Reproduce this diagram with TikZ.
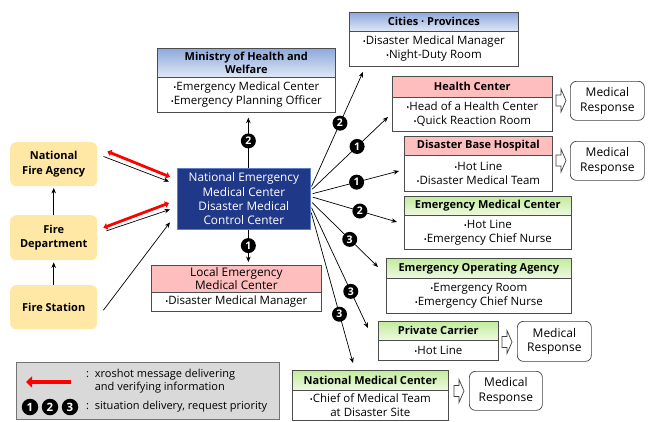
\documentclass[tikz,border=0pt]{standalone}
\usepackage{fontspec}
\setmainfont{Open Sans}
\usetikzlibrary{arrows.meta}

\definecolor{nemcblue}{RGB}{32,56,136}
\definecolor{nemcedge}{RGB}{96,126,196}
\definecolor{hdrblueA}{RGB}{142,169,219}
\definecolor{hdrblueB}{RGB}{224,232,247}
\definecolor{hdrpink}{RGB}{255,190,190}
\definecolor{hdrgreenA}{RGB}{194,236,156}
\definecolor{hdrgreenB}{RGB}{238,249,226}
\definecolor{fireyellow}{RGB}{255,231,165}
\definecolor{legendgray}{RGB}{217,217,217}

\newcommand\bul{{\fontsize{8}{8}\selectfont•}}

\tikzset{
	box/.style={draw=black!70, line width=0.7pt, anchor=north west, inner sep=0pt, align=center},
	hdr/.style={box, font=\fontsize{11}{13.5}\selectfont\bfseries},
	body/.style={box, fill=white, font=\fontsize{11.5}{14.3}\selectfont},
	bluehdr/.style={hdr, top color=hdrblueA, bottom color=hdrblueB},
	pinkhdr/.style={hdr, fill=hdrpink},
	greenhdr/.style={hdr, top color=hdrgreenA, bottom color=hdrgreenB},
	firebox/.style={anchor=north west, rounded corners=6pt, fill=fireyellow, inner sep=0pt, align=center, font=\fontsize{11}{14.5}\selectfont\bfseries},
	medresp/.style={anchor=north west, draw=black!75, line width=0.7pt, rounded corners=6pt, inner sep=0pt, align=center, font=\fontsize{12}{14.5}\selectfont},
	hollowarrow/.pic={\draw[draw=black!75, line width=0.7pt, fill=white] (-5,-5.5) -- (0,-5.5) -- (0,-11.5) -- (5,0) -- (0,11.5) -- (0,5.5) -- (-5,5.5) -- cycle;},
	prio/.style={circle, fill=black, text=white, inner sep=0pt, minimum size=15pt, font=\fontsize{10.5}{10.5}\selectfont\bfseries},
	link/.style={line width=0.7pt, -{Stealth[length=5.5pt,width=4.5pt]}},
	xro/.style={red, line width=2.8pt, {Triangle[length=4pt,width=6.5pt]}-{Triangle[length=4pt,width=6.5pt]}},
}

\begin{document}
\begin{tikzpicture}[x=1pt,y=1pt,yscale=-1,xscale=1]
	\useasboundingbox (0,0) rectangle (648,421);
	
	%Shape: Rectangle [fire side]
	\node[firebox, minimum width=87pt, minimum height=44pt] (nfa) at (10,142) {National\\Fire Agency};
	\node[firebox, minimum width=87pt, minimum height=45pt] (fd) at (10,215) {Fire\\Department};
	\node[firebox, minimum width=87pt, minimum height=44pt] (fs) at (10,285) {Fire Station};
	
	%Shape: Rectangle [control center]
	\node[draw=nemcedge, line width=0.7pt, fill=nemcblue, text=white, anchor=north west, minimum width=133pt, minimum height=61pt, inner sep=0pt, align=center, font=\fontsize{11.8}{14.3}\selectfont] (nemc) at (177,168) {National Emergency\\Medical Center\\Disaster Medical\\Control Center};
	
	%Shape: Rectangle [ministry]
	\node[bluehdr, minimum width=178pt, minimum height=29pt] (mw-h) at (157,48) {Ministry of Health and\\Welfare};
	\node[body, minimum width=178pt, minimum height=35pt] (mw) at (157,77) {\bul Emergency Medical Center\\\bul Emergency Planning Officer};
	
	%Shape: Rectangle [local center]
	\node[pinkhdr, minimum width=170pt, minimum height=27pt, font=\fontsize{11.8}{13}\selectfont] (lem-h) at (151,265) {Local Emergency\\Medical Center};
	\node[body, minimum width=170pt, minimum height=19pt] (lem) at (151,292) {\bul Disaster Medical Manager};
	
	%Shape: Rectangle [cities]
	\node[bluehdr, minimum width=169pt, minimum height=19pt] (cp-h) at (349,12) {Cities · Provinces};
	\node[body, minimum width=169pt, minimum height=35pt] (cp) at (349,31) {\bul Disaster Medical Manager\\\bul Night-Duty Room};
	
	%Shape: Rectangle [health center]
	\node[pinkhdr, minimum width=160pt, minimum height=21pt] (hc-h) at (392,76) {Health Center};
	\node[body, minimum width=160pt, minimum height=34pt] (hc) at (392,97) {\bul Head of a Health Center\\\bul Quick Reaction Room};
	
	%Shape: Rectangle [base hospital]
	\node[pinkhdr, minimum width=148pt, minimum height=19pt] (dbh-h) at (404,136) {Disaster Base Hospital};
	\node[body, minimum width=148pt, minimum height=36pt] (dbh) at (404,155) {\bul Hot Line\\\bul Disaster Medical Team};
	
	%Shape: Rectangle [emergency medical center]
	\node[greenhdr, minimum width=167pt, minimum height=19pt] (emc-h) at (404,196) {Emergency Medical Center};
	\node[body, minimum width=167pt, minimum height=34pt] (emc) at (404,215) {\bul Hot Line\\\bul Emergency Chief Nurse};
	
	%Shape: Rectangle [operating agency]
	\node[greenhdr, minimum width=185pt, minimum height=20pt] (eoa-h) at (386,258) {Emergency Operating Agency};
	\node[body, minimum width=185pt, minimum height=35pt] (eoa) at (386,278) {\bul Emergency Room\\\bul Emergency Chief Nurse};
	
	%Shape: Rectangle [private carrier]
	\node[greenhdr, minimum width=120pt, minimum height=19pt] (pc-h) at (378,321) {Private Carrier};
	\node[body, minimum width=120pt, minimum height=20pt] (pc) at (378,340) {\bul Hot Line};
	
	%Shape: Rectangle [national medical center]
	\node[greenhdr, minimum width=156pt, minimum height=20pt] (nmc-h) at (292,370) {National Medical Center};
	\node[body, minimum width=156pt, minimum height=30pt] (nmc) at (292,390) {\bul Chief of Medical Team\\at Disaster Site};
	
	%Shape: Rounded Rect [medical response]
	\node[medresp, minimum width=74pt, minimum height=39pt] (mr1) at (570,81) {Medical\\Response};
	\node[medresp, minimum width=74pt, minimum height=39pt] (mr2) at (570,141) {Medical\\Response};
	\node[medresp, minimum width=74pt, minimum height=40pt] (mr3) at (517,321) {Medical\\Response};
	\node[medresp, minimum width=73pt, minimum height=39pt] (mr4) at (469,371) {Medical\\Response};
	
	%Shape: Right Arrow
	\pic (ha1) at (561,100.5) {hollowarrow};
	\pic (ha2) at (561,160.5) {hollowarrow};
	\pic (ha3) at (507,342) {hollowarrow};
	\pic (ha4) at (459,391) {hollowarrow};
	
	%Straight Lines [fire side]
	\draw[link, shorten >=1.5pt] (fd.north) -- (nfa.south);
	\draw[link, shorten >=2pt] (fs.north) -- (fd.south);
	\draw[xro, shorten <=10.8pt, shorten >=7.6pt] (nfa.21) -- (nemc.164.5);
	\draw[link, shorten <=6.5pt, shorten >=8.6pt] (nfa.13.4) -- (nemc.168.5);
	\draw[xro, shorten <=6.4pt, shorten >=8.5pt] (fd.10.8) -- (nemc.181.4);
	\draw[link, shorten <=9.5pt, shorten >=7.4pt] (fd.5.9) -- (nemc.187);
	\draw[link, shorten <=9.9pt, shorten >=11.6pt] (fs.-14.2) -- (nemc.192.1);
	
	%Straight Lines [up and down]
	\draw[link, shorten >=5pt] ([xshift=4.5pt]nemc.north) -- node[prio, pos=.49] (p-mw) {2} ([xshift=2pt]mw.south);
	\draw[link, shorten >=3pt] ([xshift=4.5pt]nemc.south) -- node[prio, pos=.45] (p-lem) {1} ([xshift=12pt]lem-h.north);
	
	%Straight Lines [fan out]
	\coordinate (cp-in) at (363,72);
	\coordinate (hc-in) at (388,117);
	\coordinate (dbh-in) at (399,171);
	\coordinate (emc-in) at (397,222);
	\coordinate (eoa-in) at (378,267);
	\coordinate (pc-in) at (368,328);
	\coordinate (nmc-in) at (353,363);
	\draw[link, shorten <=2pt] (nemc.9) -- node[prio, pos=.56] (p-cp) {2} (cp-in);
	\draw[link, shorten <=2pt] (nemc.7.3) -- node[prio, pos=.6] (p-hc) {1} (hc-in);
	\draw[link, shorten <=2pt] (nemc.4.7) -- node[prio, pos=.52] (p-dbh) {1} (dbh-in);
	\draw[link, shorten <=2pt] (nemc.2.2) -- node[prio, pos=.57] (p-emc) {2} (emc-in);
	\draw[link, shorten <=2pt] (nemc.-2.2) -- node[prio, pos=.58] (p-eoa) {3} (eoa-in);
	\draw[link, shorten <=2pt] (nemc.-6.4) -- node[prio, pos=.7] (p-pc) {3} (pc-in);
	\draw[link, shorten <=2pt] (nemc.-10.6) -- node[prio, pos=.68] (p-nmc) {3} (nmc-in);
	
	%Shape: Rectangle [legend]
	\node[draw=black!55, line width=0.7pt, fill=legendgray, anchor=north west, minimum width=263pt, minimum height=57pt, inner sep=0pt] (legend) at (16,362) {};
	\coordinate (leg-a) at (71,382);
	\coordinate (leg-b) at (26,382);
	\draw[red, line width=4.5pt, -{Triangle[length=6pt,width=11pt]}] (leg-a) -- (leg-b);
	\node[prio, minimum size=16.5pt, font=\fontsize{11.5}{11.5}\selectfont\bfseries] (leg-1) at (30,407) {1};
	\node[prio, minimum size=16.5pt, font=\fontsize{11.5}{11.5}\selectfont\bfseries] (leg-2) at (50,407) {2};
	\node[prio, minimum size=16.5pt, font=\fontsize{11.5}{11.5}\selectfont\bfseries] (leg-3) at (70,407) {3};
	
	% Text Node
	\node[anchor=north west, inner sep=0pt, align=left, font=\fontsize{11}{13}\selectfont] (leg-t1) at (86,369) {:\ \ xroshot message delivering\\\phantom{:\ \ }and verifying information};
	% Text Node
	\node[anchor=west, inner sep=0pt, font=\fontsize{11}{13}\selectfont] (leg-t2) at (86,407) {:\ \ situation delivery, request priority};
	
\end{tikzpicture}
\end{document}
